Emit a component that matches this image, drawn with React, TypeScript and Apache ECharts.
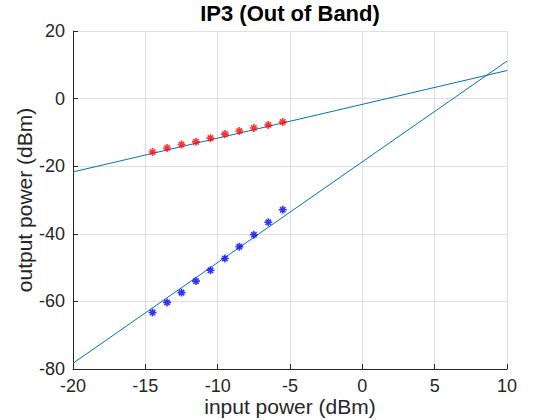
import React, { useEffect, useRef } from "react";
import * as echarts from "echarts";

const inputPower = [-14.5, -13.5, -12.5, -11.5, -10.5, -9.5, -8.5, -7.5, -6.5, -5.5];
const fundamentalOut = [-15.8, -14.6, -13.6, -12.8, -11.7, -10.5, -9.6, -8.7, -7.8, -6.9];
const im3Out = [-63.3, -60.3, -57.4, -54.0, -50.8, -47.3, -43.8, -40.3, -36.6, -32.9];
const fitX = [-20, 10];
const fundamentalFit = [-21.7, 8.3];
const im3Fit = [-78.3, 11.1];
const xTicks = { min: -20, max: 10, interval: 5 };
const yTicks = { min: -80, max: 20, interval: 20 };

const FONT = "'Liberation Sans', Arial, Helvetica, sans-serif";
const AX = "#262626";
const ASTERISK = "path://M5,0L5,10M0,5L10,5M1.6,1.6L8.4,8.4M1.6,8.4L8.4,1.6";

export default function App() {
  const ref = useRef<HTMLDivElement>(null);
  useEffect(() => {
    if (!ref.current) return;
    const chart = echarts.init(ref.current, null, { renderer: "svg" });
    const pair = (xs: number[], ys: number[]) => xs.map((x, i) => [x, ys[i]]);
    chart.setOption({
      animation: false,
      backgroundColor: "#ffffff",
      title: {
        text: "IP3 (Out of Band)",
        left: 290,
        textAlign: "center",
        top: 2,
        padding: 0,
        textStyle: { fontFamily: FONT, fontSize: 22, fontWeight: "bold", color: "#000" },
      },
      grid: { left: 73, right: 53, top: 31, bottom: 51, containLabel: false, outerBoundsMode: "none" },
      xAxis: {
        type: "value",
        min: xTicks.min,
        max: xTicks.max,
        interval: xTicks.interval,
        name: "input power (dBm)",
        nameLocation: "middle",
        nameGap: 27,
        nameMoveOverlap: false,
        nameTextStyle: { fontFamily: FONT, fontSize: 21, lineHeight: 20, color: AX, verticalAlign: "top" },
        axisLine: { show: true, onZero: false, lineStyle: { color: AX, width: 1 } },
        axisTick: { show: true, inside: true, length: 5, lineStyle: { color: AX } },
        axisLabel: { fontFamily: FONT, fontSize: 18, lineHeight: 16, color: AX, margin: 9 },
        splitLine: { show: true, lineStyle: { color: "#dfdfdf", width: 1 } },
      },
      yAxis: {
        type: "value",
        min: yTicks.min,
        max: yTicks.max,
        interval: yTicks.interval,
        name: "output power (dBm)",
        nameLocation: "middle",
        nameGap: 38,
        nameMoveOverlap: false,
        nameTextStyle: { fontFamily: FONT, fontSize: 21, color: AX },
        axisLine: { show: true, onZero: false, lineStyle: { color: AX, width: 1 } },
        axisTick: { show: true, inside: true, length: 5, lineStyle: { color: AX } },
        axisLabel: { fontFamily: FONT, fontSize: 18, color: AX, margin: 8 },
        splitLine: { show: true, lineStyle: { color: "#dfdfdf", width: 1 } },
      },
      series: [
        {
          type: "line",
          data: pair(fitX, fundamentalFit),
          showSymbol: false,
          symbol: "none",
          silent: true,
          lineStyle: { color: "#0072bd", width: 1 },
          z: 2,
        },
        {
          type: "line",
          data: pair(fitX, im3Fit),
          showSymbol: false,
          symbol: "none",
          silent: true,
          lineStyle: { color: "#0072bd", width: 1 },
          z: 2,
        },
        {
          type: "scatter",
          data: pair(inputPower, fundamentalOut),
          symbol: ASTERISK,
          symbolSize: 8,
          silent: true,
          itemStyle: { color: "#ff0000", borderColor: "#ff0000", borderWidth: 1.6 },
          z: 3,
        },
        {
          type: "scatter",
          data: pair(inputPower, im3Out),
          symbol: ASTERISK,
          symbolSize: 8,
          silent: true,
          itemStyle: { color: "#0000ff", borderColor: "#0000ff", borderWidth: 1.6 },
          z: 3,
        },
      ],
    });
    return () => chart.dispose();
  }, []);
  return (
    <div
      ref={ref}
      style={{ position: "fixed", left: 0, top: 0, width: 560, height: 420, background: "#fff" }}
    />
  );
}
